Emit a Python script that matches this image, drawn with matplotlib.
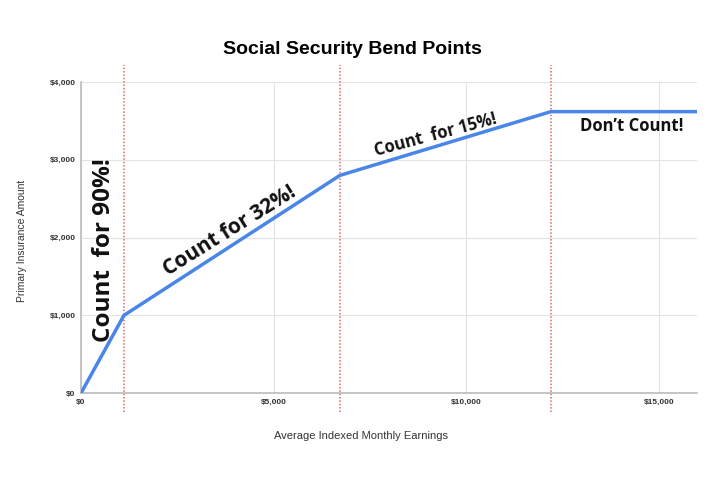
import matplotlib.pyplot as plt
from matplotlib.ticker import FuncFormatter

# bend points (AIME) and resulting PIA
aime = [0, 1115, 6721, 12200, 16000]
pia = [0, 1000, 2800, 3620, 3620]
bends = [1115, 6721, 12200]
x_ticks = [0, 5000, 10000, 15000]
y_ticks = [0, 1000, 2000, 3000, 4000]

plt.rcParams['font.family'] = ['Liberation Sans', 'DejaVu Sans']

fig = plt.figure(figsize=(7.2, 4.8), dpi=100)
ax = fig.add_axes([0.1125, 0.181, 0.856, 0.648])

ax.plot(aime, pia, color='#4a86e8', lw=2.5, zorder=3, solid_capstyle='butt')
for b in bends:
    ax.axvline(b, ymin=-0.06, ymax=1.055, color='#e06666', ls=(0, (1, 1.2)),
               lw=1.1, clip_on=False, zorder=2)

ax.set_xlim(0, 16000)
ax.set_ylim(0, 4000)
ax.set_xticks(x_ticks)
ax.set_yticks(y_ticks)
money = FuncFormatter(lambda v, p: f'${v:,.0f}')
ax.xaxis.set_major_formatter(money)
ax.yaxis.set_major_formatter(money)
ax.tick_params(length=0, labelsize=6, labelcolor='#333333', pad=4)
for lab in ax.get_xticklabels() + ax.get_yticklabels():
    lab.set_fontweight('bold')
ax.grid(color='#e3e3e3', lw=0.8)
ax.set_axisbelow(True)
for s in ['top', 'right']:
    ax.spines[s].set_visible(False)
for s in ['left', 'bottom']:
    ax.spines[s].set_color('#bbbbbb')
    ax.spines[s].set_linewidth(1.2)

ax.set_xlabel('Average Indexed Monthly Earnings', fontsize=8, color='#333333')
ax.xaxis.set_label_coords(0.455, -0.122)
ax.set_ylabel('Primary Insurance Amount', fontsize=7.5, color='#333333')
ax.yaxis.set_label_coords(-0.088, 0.49)
fig.suptitle('Social Security Bend Points', fontsize=14, fontweight='bold', y=0.915, x=0.49)

note = dict(family=['Open Sans', 'DejaVu Sans'], fontweight='bold', color='#111111',
            ha='center', va='center')
ax.text(600, 1840, 'Count  for 90%!', fontsize=17.5, rotation=90, **note)
ax.text(3870, 2080, 'Count for 32%!', fontsize=15, rotation=32, **note)
ax.text(9200, 3320, 'Count  for 15%!', fontsize=12, rotation=15, **note)
ax.text(14300, 3430, 'Don\u2019t Count!', fontsize=12, **note)

fig.savefig('out.png', dpi=100)
